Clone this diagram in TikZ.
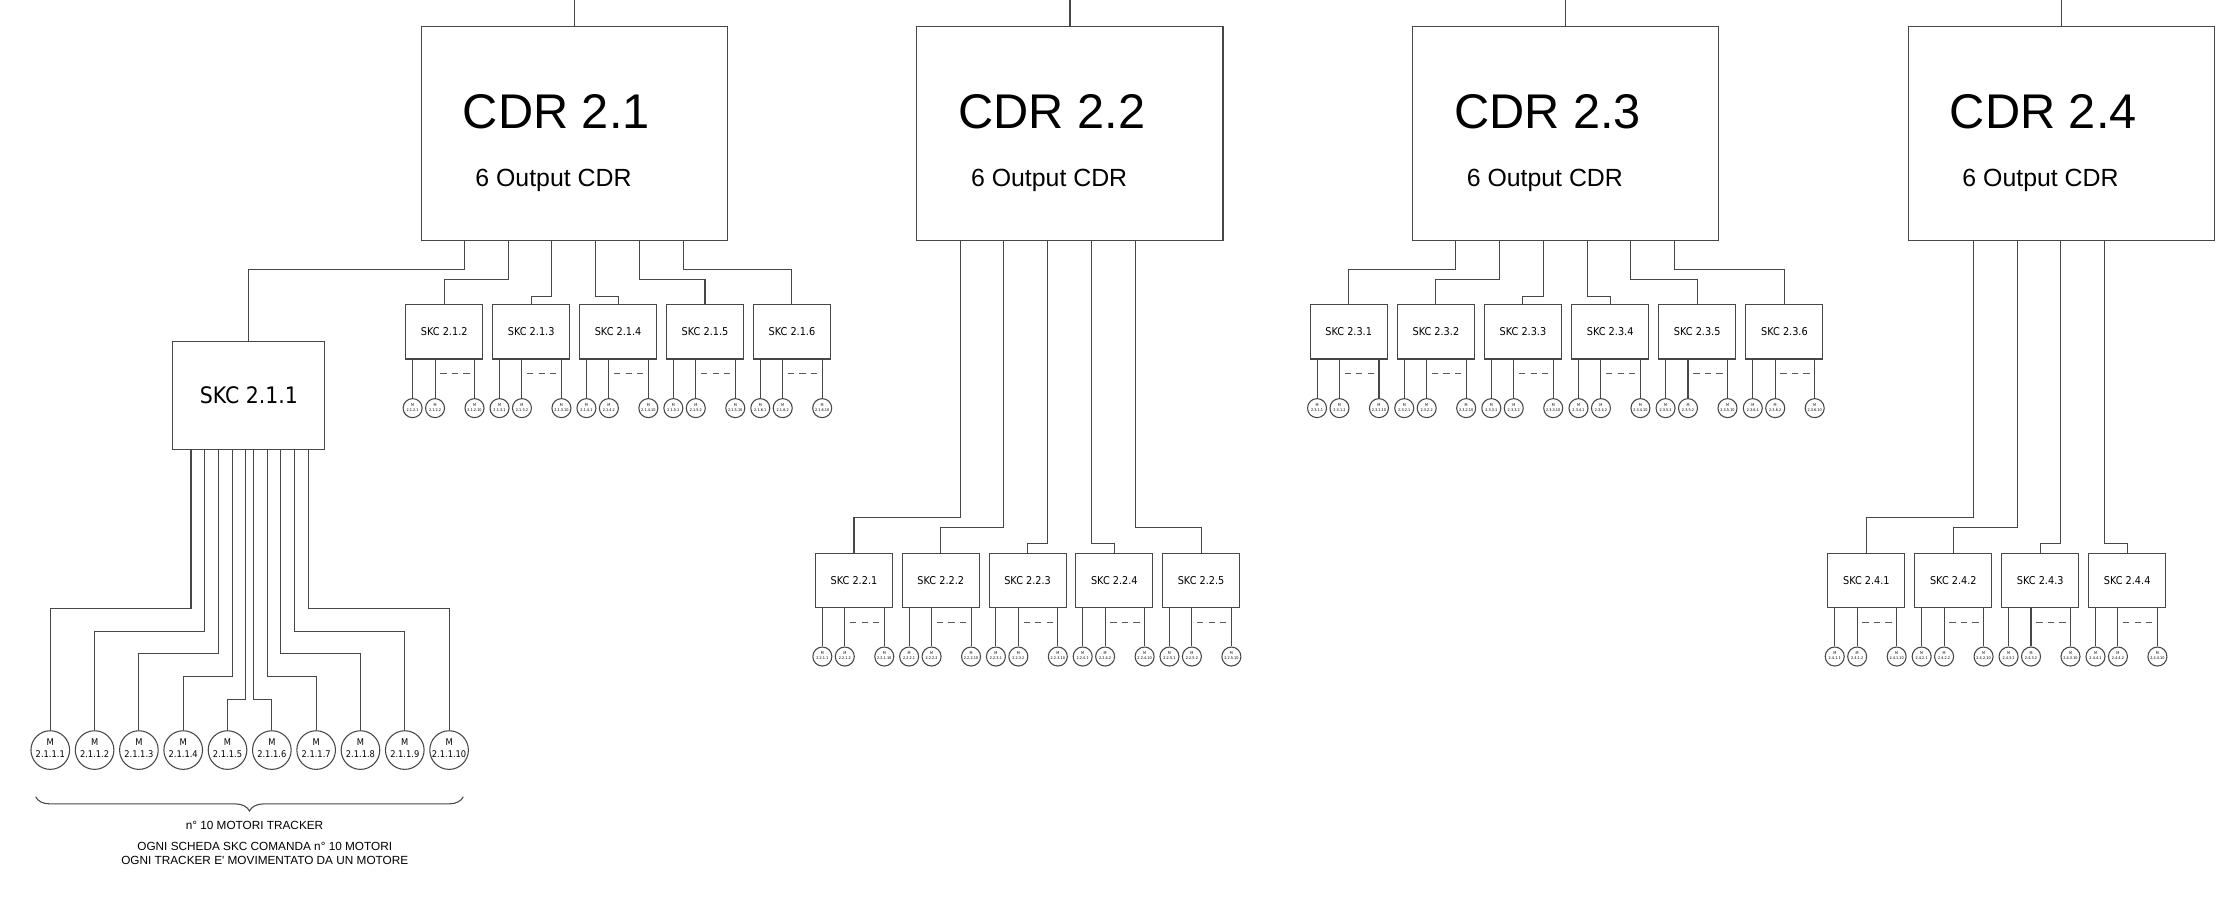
\documentclass[tikz,border=0pt]{standalone}
\usepackage{fontspec}
\setmainfont{Liberation Sans}[Ligatures=TeXOff]
\newfontfamily\dvc{DejaVu Sans}[FakeStretch=0.9]
\usetikzlibrary{decorations.pathreplacing}
\begin{document}
\begin{tikzpicture}[x=1pt,y=-1pt,
  ln/.style={line width=0.75pt, draw=black!72},
  cdrbox/.style={ln, rectangle, minimum width=215.5pt, minimum height=150.8pt, inner sep=0pt},
  cdrt/.style={anchor=base, inner sep=0pt, font=\fontsize{34.3}{40}\selectfont},
  outt/.style={anchor=base, inner sep=0pt, font=\fontsize{17.5}{20}\selectfont},
  skcs/.style={ln, rectangle, minimum width=54.2pt, minimum height=38.2pt, inner sep=0pt, font=\dvc\fontsize{7.6}{9}\selectfont},
  skcb/.style={ln, rectangle, minimum width=107.1pt, minimum height=76.2pt, inner sep=0pt, font=\dvc\fontsize{16}{19}\selectfont},
  motb/.style={ln, circle, minimum size=27.2pt, inner sep=0pt},
  mots/.style={ln, circle, minimum size=13.4pt, inner sep=0pt},
  lblb/.style={align=center, inner sep=0pt, font=\dvc\fontsize{6.5}{8.3}\selectfont},
  lbls/.style={align=center, inner sep=0pt, font=\dvc\fontsize{2.7}{3.4}\selectfont},
  note/.style={align=center, inner sep=0pt, font=\fontsize{8.3}{9.9}\selectfont},
  dsh/.style={line width=0.6pt, draw=black!65, dash pattern=on 4.4pt off 3.7pt}
]
\fill[white] (0,0) rectangle (1568,633);
\useasboundingbox (0,0) rectangle (1568,633);

% CDR boxes
\foreach \k/\L in {1/296.6, 2/645.6, 3/994.6, 4/1343.6}{
  \pgfmathsetmacro\cx{\L+107.75}
  \pgfmathsetmacro\tx{\L+95.1}
  \pgfmathsetmacro\ox{\L+93.1}
  \coordinate (top\k) at (\cx,0);
  \node[cdrbox] (c\k) at (\cx,93.9) {};
  \node[cdrt] (c\k a) at (\tx,90.4) {CDR 2.\k};
  \node[outt] (c\k b) at (\ox,131) {6 Output CDR};
  \draw[ln] (top\k) -- (c\k.north);
}

% SKC 2.1.1 and its motors
\node[skcb, anchor=north west] (s211) at (121.3,240) {SKC 2.1.1};
\foreach \i in {1,...,10}{
  \pgfmathsetmacro\mx{35.4+31.2*(\i-1)}
  \node[motb] (m\i) at (\mx,528.1) {};
  \node[lblb] (m\i t) at ([yshift=1.3pt]m\i.center) {M\\2.1.1.\i};
}
\foreach \i/\dx/\lv in {1/13.2/427.6, 2/22.8/443.8, 3/32.4/459.5, 4/42.3/475.7, 5/51.7/491.7,
                        6/57.5/491.7, 7/66.9/475.7, 8/76.5/459.5, 9/86.2/443.8, 10/95.6/427.6}{
  \draw[ln] ([xshift=\dx pt]s211.south west) -- ++(0,{\lv-316.2}) -| (m\i.north);
}

% small SKC boards with motors
\foreach \nm/\lab/\lx/\ty in {
  s212/2.1.2/285.3/214.2, s213/2.1.3/346.5/214.2, s214/2.1.4/407.7/214.2, s215/2.1.5/468.9/214.2, s216/2.1.6/530.1/214.2,
  s221/2.2.1/573.8/389.1, s222/2.2.2/634.9/389.1, s223/2.2.3/696.0/389.1, s224/2.2.4/757.1/389.1, s225/2.2.5/818.2/389.1,
  s231/2.3.1/922.1/214.2, s232/2.3.2/983.5/214.2, s233/2.3.3/1044.8/214.2, s234/2.3.4/1106.2/214.2, s235/2.3.5/1167.5/214.2, s236/2.3.6/1228.9/214.2,
  s241/2.4.1/1286.6/389.1, s242/2.4.2/1347.8/389.1, s243/2.4.3/1409.0/389.1, s244/2.4.4/1470.2/389.1}{
  \node[skcs, anchor=north west] (\nm) at (\lx,\ty) {SKC \lab};
  \foreach \q/\dx/\mm in {1/5.2/1, 2/21/2, 3/48.8/10}{
    \node[mots] (\nm m\q) at ([shift={(\dx,34.2)}]\nm.south west) {};
    \node[lbls] (\nm t\q) at ([yshift=0.5pt]\nm m\q.center) {M\\\lab.\mm};
    \draw[ln] ([xshift=\dx pt]\nm.south west) -- (\nm m\q.north);
  }
  \coordinate (\nm d) at ([shift={(24.7,9.9)}]\nm.south west);
  \coordinate (\nm e) at ([shift={(45.3,9.9)}]\nm.south west);
  \draw[dsh] (\nm d) -- (\nm e);
}

% CDR outputs
\foreach \i/\t/\d in {1/s211/19.8, 2/s212/27.4, 3/s213/39.2, 4/s214/39.2, 5/s215/27.4, 6/s216/19.8}{
  \draw[ln] ([xshift=\i*30.8pt]c1.south west) -- ++(0,\d) -| (\t.north);
}
\foreach \i/\t/\d in {1/s221/194.5, 2/s222/201.5, 3/s223/213.2, 4/s224/213.2, 5/s225/201.5}{
  \draw[ln] ([xshift=\i*30.8pt]c2.south west) -- ++(0,\d) -| (\t.north);
}
\foreach \i/\t/\d in {1/s231/19.8, 2/s232/27.4, 3/s233/39.2, 4/s234/39.2, 5/s235/27.4, 6/s236/19.8}{
  \draw[ln] ([xshift=\i*30.8pt]c3.south west) -- ++(0,\d) -| (\t.north);
}
\foreach \i/\t/\d in {1/s241/194.5, 2/s242/201.5, 3/s243/213.2, 4/s244/213.2}{
  \draw[ln] ([xshift=(\i+0.5)*30.8pt]c4.south west) -- ++(0,\d) -| (\t.north);
}

% brace and notes
\coordinate (bl) at (25.1,561);
\coordinate (br) at (326.2,561);
\draw[ln, decorate, decoration={brace, mirror, amplitude=10pt}] (bl) -- (br);
\node[note] (n1) at (179.2,580.9) {n° 10 MOTORI TRACKER};
\node[note] (n2) at (186.4,601.05) {OGNI SCHEDA SKC COMANDA n° 10 MOTORI\\OGNI TRACKER E' MOVIMENTATO DA UN MOTORE};
\end{tikzpicture}
\end{document}
